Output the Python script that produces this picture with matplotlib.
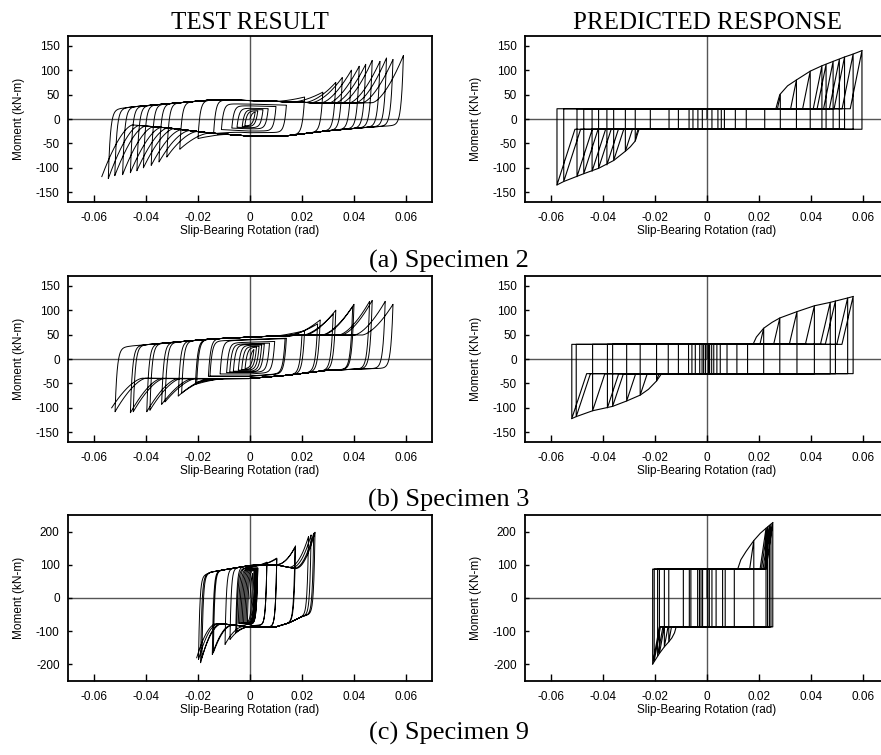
import numpy as np
import matplotlib.pyplot as plt

plt.rcParams['font.family'] = ['Liberation Sans', 'DejaVu Sans']

# ---------------- TEST RESULT data (cycle peaks; None = no bearing, stays on slip plateau)
s2_pos = [0.002, 0.003, 0.005, 0.007, 0.010, 0.014, 0.021, 0.028, 0.033, 0.0355,
          0.039, 0.042, 0.0445, 0.047, 0.050, 0.0525, 0.055, 0.059]
s2_pos_m = [None] * 6 + [45, 55, 75, 85, 100, 108, 112, 120, 118, 125, 122, 130]
s2_neg = [-0.002, -0.003, -0.005, -0.007, -0.011, -0.014, -0.020, -0.027, -0.032, -0.035,
          -0.038, -0.041, -0.0435, -0.046, -0.049, -0.052, -0.0545, -0.057]
s2_neg_m = [None] * 5 + [-30, -40, -62, -78, -88, -95, -100, -106, -110, -114, -116, -122, -118]

s3_pos = [0.0015, 0.0025, 0.0035, 0.0045, 0.0055, 0.0075, 0.0095, 0.0135, 0.014, 0.020, 0.021,
          0.026, 0.027, 0.032, 0.033, 0.0395, 0.040, 0.046, 0.047, 0.052, 0.055]
s3_pos_m = [None] * 9 + [50, 58, 72, 80, 92, 100, 108, 112, 118, 120, 118, 112]
s3_neg = [-0.0019, -0.0032, -0.0045, -0.0064, -0.0078, -0.009, -0.0115, -0.0154, -0.016, -0.0205,
          -0.021, -0.0263, -0.0276, -0.0327, -0.034, -0.0385, -0.0397, -0.0449, -0.046, -0.0519, -0.0532]
s3_neg_m = [None] * 9 + [-48, -52, -70, -76, -88, -93, -105, -108, -108, -110, -108, -100]

s9_pos = [0.001, 0.0015, 0.002, 0.0025, 0.002, 0.0025, 0.003, 0.003, 0.0065, 0.0065,
          0.0103, 0.0103, 0.0173, 0.0175, 0.0225, 0.0235, 0.0245, 0.025]
s9_pos_m = [None] * 8 + [105, 108, 118, 120, 152, 157, 185, 190, 195, 198]
s9_neg = [-0.001, -0.0015, -0.002, -0.0025, -0.003, -0.0035, -0.004, -0.0045, -0.0051, -0.0055,
          -0.0077, -0.0096, -0.0141, -0.0145, -0.0185, -0.019, -0.0198, -0.0205]
s9_neg_m = [None] * 8 + [-100, -105, -125, -140, -165, -170, -180, -195, -185, -180]

# slip plateau levels (loading right = up, loading left = lo)
s2_pl_th = [-0.06, -0.045, -0.03, -0.015, 0.0, 0.015, 0.03, 0.045, 0.06]
s2_up_m = [15, 25, 32, 39, 38, 35, 32, 33, 36]
s2_lo_m = [-10, -12, -19, -29, -35, -34, -24, -17, -12]
s3_pl_th = [-0.06, -0.045, -0.03, -0.015, 0.0, 0.015, 0.03, 0.045, 0.06]
s3_up_m = [18, 27, 34, 41, 45, 48, 49, 49, 48]
s3_lo_m = [-35, -39, -40, -40, -40, -33, -23, -20, -18]
s9_pl_th = [-0.025, -0.02, -0.015, -0.01, 0.0, 0.01, 0.015, 0.02, 0.025]
s9_up_m = [55, 62, 78, 85, 98, 100, 92, 84, 80]
s9_lo_m = [-76, -76, -76, -78, -87, -87, -75, -56, -45]

# ---------------- PREDICTED RESPONSE data
p2_ms = 21
p2_pos = [0.0019, 0.0042, 0.0055, 0.0067, 0.0109, 0.0151, 0.0222, 0.0282, 0.0344, 0.0397,
          0.0442, 0.0458, 0.0485, 0.0509, 0.0529, 0.0562, 0.0596]
p2_pos_m = [21] * 7 + [50, 80, 98, 109, 112, 118, 122, 127, 133, 140]
p2_neg = [-0.0018, -0.0035, -0.0054, -0.0069, -0.011, -0.0146, -0.0218, -0.0276, -0.0314, -0.0359,
          -0.0385, -0.0417, -0.0442, -0.0474, -0.050, -0.0551, -0.0577]
p2_neg_m = [-21] * 7 + [-45, -66, -85, -94, -101, -107, -112, -118, -128, -135]
p2_env_pos_th = [0.0265, 0.0272, 0.028, 0.031, 0.0344, 0.0397, 0.0442, 0.0485, 0.0529, 0.0562, 0.0596]
p2_env_pos_m = [21, 35, 50, 68, 80, 98, 109, 118, 127, 133, 140]
p2_env_neg_th = [-0.0265, -0.0272, -0.0276, -0.0295, -0.0314, -0.0359, -0.0417, -0.0474, -0.0551, -0.0577]
p2_env_neg_m = [-21, -33, -45, -57, -66, -85, -101, -112, -128, -135]

p3_ms = 30
p3_pos = [0.0006, 0.001, 0.0018, 0.0026, 0.0038, 0.0051, 0.0077, 0.0115, 0.0156, 0.0218,
          0.028, 0.0346, 0.0413, 0.0474, 0.0494, 0.0541, 0.0562]
p3_pos_m = [30] * 9 + [63, 84, 97, 109, 116, 119, 125, 128]
p3_neg = [-0.0006, -0.0013, -0.0019, -0.0028, -0.0045, -0.0058, -0.0071, -0.011, -0.0149, -0.0194,
          -0.0257, -0.0309, -0.0363, -0.0383, -0.044, -0.0503, -0.052]
p3_neg_m = [-30] * 9 + [-45, -74, -86, -97, -100, -106, -118, -122]
p3_env_pos_th = [0.0177, 0.019, 0.0218, 0.025, 0.028, 0.0346, 0.0413, 0.0474, 0.0541, 0.0562]
p3_env_pos_m = [30, 45, 63, 75, 84, 97, 109, 116, 125, 128]
p3_env_neg_th = [-0.0175, -0.0185, -0.0194, -0.0225, -0.0257, -0.0309, -0.0363, -0.044, -0.0503, -0.052]
p3_env_neg_m = [-30, -38, -45, -62, -74, -86, -97, -106, -118, -122]

p9_ms = 87
p9_pos = [0.0003, 0.0009, 0.0019, 0.0035, 0.006, 0.007, 0.0105, 0.018, 0.0227, 0.0233,
          0.024, 0.0246, 0.0253]
p9_pos_m = [87] * 7 + [173, 210, 214, 219, 222, 227]
p9_neg = [-0.0017, -0.0023, -0.0029, -0.0036, -0.0062, -0.0068, -0.0091, -0.0147, -0.0164,
          -0.0183, -0.019, -0.0203, -0.0209]
p9_neg_m = [-87] * 7 + [-132, -147, -167, -175, -190, -199]
p9_env_pos_th = [0.0118, 0.013, 0.015, 0.018, 0.0205, 0.0227, 0.0253]
p9_env_pos_m = [87, 115, 140, 173, 195, 210, 227]
p9_env_neg_th = [-0.0119, -0.0125, -0.0135, -0.0147, -0.0164, -0.0183, -0.0209]
p9_env_neg_m = [-88, -105, -120, -132, -147, -167, -199]


def branch(a, ma, b, mb, pl_th, pl_m, fac, width, delta, power):
    t = 0.5 - 0.5 * np.cos(np.linspace(0, np.pi, 900))
    th = a + (b - a) * t
    s = np.sign(b - a)
    pl = lambda v: fac * np.interp(v, pl_th, pl_m)
    m = pl(th) + (ma - pl(a)) * np.exp(-np.abs(th - a) / delta)
    if mb is not None:
        u = np.clip((s * (th - b) + width) / width, 0, 1)
        m = m + (mb - pl(b)) * u ** power
    return th, m


def test_loops(pos, pos_m, neg, neg_m, pl_th, up_m, lo_m, ramp, fmin, width, delta, power):
    xs, ys = [], []
    a, ma = 0.0, 0.0
    for tp, mp, tn, mn in zip(pos, pos_m, neg, neg_m):
        fac = fmin + (1 - fmin) * min(1.0, max(tp, -tn) / ramp)
        th, m = branch(a, ma, tp, mp, pl_th, up_m, fac, width, delta, power)
        xs.append(th); ys.append(m)
        th, m = branch(tp, m[-1], tn, mn, pl_th, lo_m, fac, width, delta, power)
        xs.append(th); ys.append(m)
        a, ma = tn, m[-1]
    return np.concatenate(xs), np.concatenate(ys)


def model_path(pos, pos_m, neg, neg_m, ms, kp, kn):
    x, y = [0.0, 0.0], [0.0, ms]
    for tp, mp, tn, mn in zip(pos, pos_m, neg, neg_m):
        if mp > ms:
            x += [tp - (mp - ms) / kp, tp]; y += [ms, mp]
        else:
            x += [tp]; y += [ms]
        x += [tp]; y += [-ms]
        if mn < -ms:
            x += [tn + (-ms - mn) / kn, tn]; y += [-ms, mn]
        else:
            x += [tn]; y += [-ms]
        x += [tn]; y += [ms]
    # last reloading along the slip plateau
    x += [0.0]; y += [ms]
    return x, y


W, H = 881, 755
fig = plt.figure(figsize=(W / 100, H / 100), dpi=100)

rows = [(36, 202, 170, [150, 100, 50, 0, -50, -100, -150]),
        (276, 442, 170, [150, 100, 50, 0, -50, -100, -150]),
        (515, 681, 250, [200, 100, 0, -100, -200])]
cols = [68, 525]


def style(ax, ylim, yticks, ylabel):
    ax.set_xlim(-0.07, 0.07)
    ax.set_ylim(-ylim, ylim)
    ax.axhline(0, color='#555555', lw=1.0, zorder=0)
    ax.axvline(0, color='#555555', lw=1.0, zorder=0)
    ax.set_xticks([-0.06, -0.04, -0.02, 0, 0.02, 0.04, 0.06])
    ax.set_xticklabels(['-0.06', '-0.04', '-0.02', '0', '0.02', '0.04', '0.06'])
    ax.set_yticks(yticks)
    ax.set_yticklabels([str(v) for v in yticks])
    ax.tick_params(axis='x', direction='in', length=5, width=1, pad=7, labelsize=8.5)
    ax.tick_params(axis='y', direction='in', length=3, width=1, pad=6, labelsize=8.5)
    for sp in ax.spines.values():
        sp.set_linewidth(1.3)
    ax.set_xlabel('Slip-Bearing Rotation (rad)', fontsize=8.5)
    ax.xaxis.set_label_coords(0.5, -0.14)
    ax.set_ylabel(ylabel, fontsize=8.5)
    ax.yaxis.set_label_coords(-0.118, 0.5)


test_sets = [
    (s2_pos, s2_pos_m, s2_neg, s2_neg_m, s2_pl_th, s2_up_m, s2_lo_m, 0.02, 0.35, 0.012, 0.0008, 1.6),
    (s3_pos, s3_pos_m, s3_neg, s3_neg_m, s3_pl_th, s3_up_m, s3_lo_m, 0.02, 0.45, 0.012, 0.0008, 1.6),
    (s9_pos, s9_pos_m, s9_neg, s9_neg_m, s9_pl_th, s9_up_m, s9_lo_m, 0.01, 0.85, 0.008, 0.0005, 2.0),
]
model_sets = [
    (p2_pos, p2_pos_m, p2_neg, p2_neg_m, p2_ms, 26400, 16500,
     p2_env_pos_th, p2_env_pos_m, p2_env_neg_th, p2_env_neg_m),
    (p3_pos, p3_pos_m, p3_neg, p3_neg_m, p3_ms, 22800, 16100,
     p3_env_pos_th, p3_env_pos_m, p3_env_neg_th, p3_env_neg_m),
    (p9_pos, p9_pos_m, p9_neg, p9_neg_m, p9_ms, 53800, 43000,
     p9_env_pos_th, p9_env_pos_m, p9_env_neg_th, p9_env_neg_m),
]

for r, (top, bot, ylim, yticks) in enumerate(rows):
    axes = []
    for c, left in enumerate(cols):
        ax = fig.add_axes([left / W, 1 - bot / H, 364 / W, (bot - top) / H])
        axes.append(ax)
    axl, axr = axes

    x, y = test_loops(*test_sets[r])
    axl.plot(x, y, color='black', lw=0.7)
    style(axl, ylim, yticks, 'Moment (kN-m)')

    ps = model_sets[r]
    x, y = model_path(*ps[:7])
    axr.plot(x, y, color='black', lw=0.8)
    axr.plot(ps[7], ps[8], color='black', lw=0.8)
    axr.plot(ps[9], ps[10], color='black', lw=0.8)
    style(axr, ylim, yticks, 'Moment (KN-m)')

    if r == 0:
        axl.set_title('TEST RESULT', fontsize=18, family='Liberation Serif', pad=5)
        axr.set_title('PREDICTED RESPONSE', fontsize=18, family='Liberation Serif', pad=5)

captions = ['(a) Specimen 2', '(b) Specimen 3', '(c) Specimen 9']
cap_y = [268, 507, 740]
for cap, yy in zip(captions, cap_y):
    fig.text(449 / W, 1 - yy / H, cap, ha='center', va='baseline', fontsize=19,
             family='Liberation Serif')

fig.savefig('out.png', dpi=100)
